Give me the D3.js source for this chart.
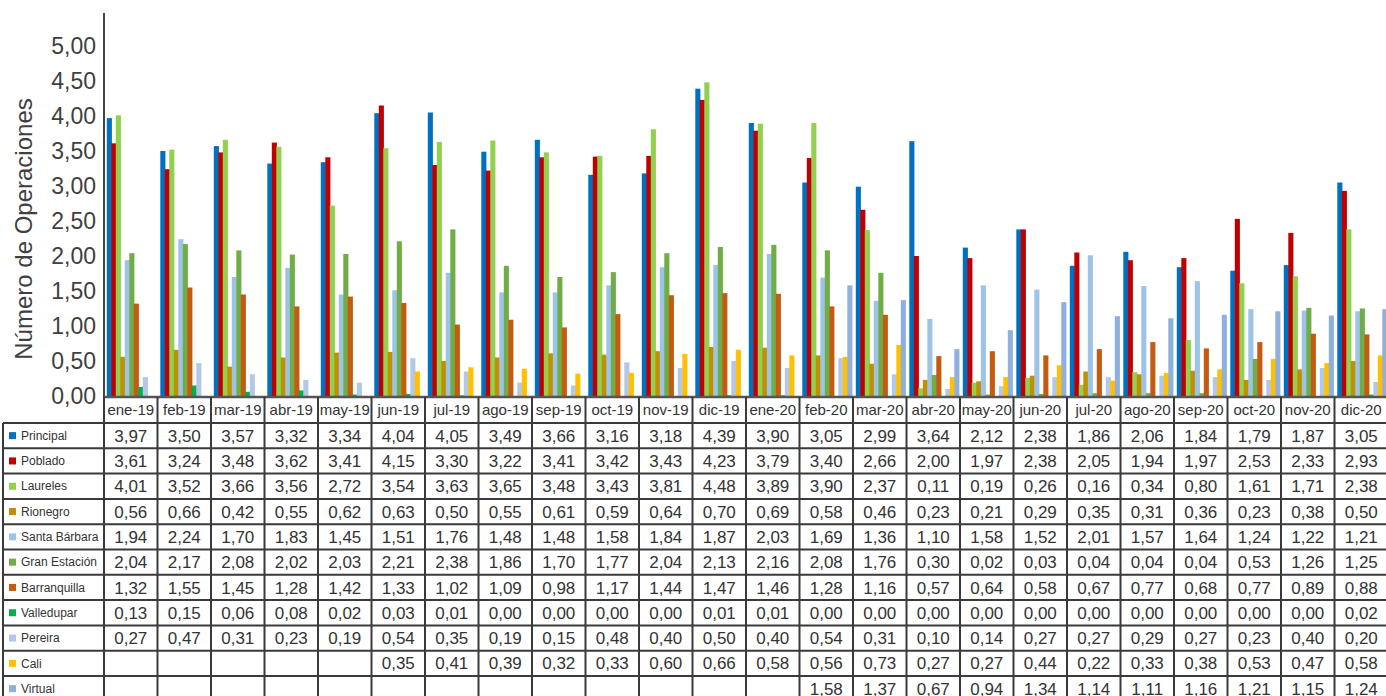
<!DOCTYPE html>
<html>
<head>
<meta charset="utf-8">
<script src="https://cdn.jsdelivr.net/npm/d3@7"></script>
<style>
  html, body { margin: 0; padding: 0; background: #fff; }
  svg { display: block; font-family: "Liberation Sans", Arial, Helvetica, sans-serif; }
</style>
</head>
<body>
<svg id="chart" width="1386" height="696"></svg>
<script>
// ---------- DATA ----------
const months = ["ene-19","feb-19","mar-19","abr-19","may-19","jun-19","jul-19","ago-19","sep-19","oct-19","nov-19","dic-19",
                "ene-20","feb-20","mar-20","abr-20","may-20","jun-20","jul-20","ago-20","sep-20","oct-20","nov-20","dic-20"];
const seriesNames = ["Principal","Poblado","Laureles","Rionegro","Santa Bárbara","Gran Estación","Barranquilla","Valledupar","Pereira","Cali","Virtual"];
const principal    = [3.97,3.50,3.57,3.32,3.34,4.04,4.05,3.49,3.66,3.16,3.18,4.39,3.90,3.05,2.99,3.64,2.12,2.38,1.86,2.06,1.84,1.79,1.87,3.05];
const poblado      = [3.61,3.24,3.48,3.62,3.41,4.15,3.30,3.22,3.41,3.42,3.43,4.23,3.79,3.40,2.66,2.00,1.97,2.38,2.05,1.94,1.97,2.53,2.33,2.93];
const laureles     = [4.01,3.52,3.66,3.56,2.72,3.54,3.63,3.65,3.48,3.43,3.81,4.48,3.89,3.90,2.37,0.11,0.19,0.26,0.16,0.34,0.80,1.61,1.71,2.38];
const rionegro     = [0.56,0.66,0.42,0.55,0.62,0.63,0.50,0.55,0.61,0.59,0.64,0.70,0.69,0.58,0.46,0.23,0.21,0.29,0.35,0.31,0.36,0.23,0.38,0.50];
const santaBarbara = [1.94,2.24,1.70,1.83,1.45,1.51,1.76,1.48,1.48,1.58,1.84,1.87,2.03,1.69,1.36,1.10,1.58,1.52,2.01,1.57,1.64,1.24,1.22,1.21];
const granEstacion = [2.04,2.17,2.08,2.02,2.03,2.21,2.38,1.86,1.70,1.77,2.04,2.13,2.16,2.08,1.76,0.30,0.02,0.03,0.04,0.04,0.04,0.53,1.26,1.25];
const barranquilla = [1.32,1.55,1.45,1.28,1.42,1.33,1.02,1.09,0.98,1.17,1.44,1.47,1.46,1.28,1.16,0.57,0.64,0.58,0.67,0.77,0.68,0.77,0.89,0.88];
const valledupar   = [0.13,0.15,0.06,0.08,0.02,0.03,0.01,0.00,0.00,0.00,0.00,0.01,0.01,0.00,0.00,0.00,0.00,0.00,0.00,0.00,0.00,0.00,0.00,0.02];
const pereira      = [0.27,0.47,0.31,0.23,0.19,0.54,0.35,0.19,0.15,0.48,0.40,0.50,0.40,0.54,0.31,0.10,0.14,0.27,0.27,0.29,0.27,0.23,0.40,0.20];
const cali         = [null,null,null,null,null,0.35,0.41,0.39,0.32,0.33,0.60,0.66,0.58,0.56,0.73,0.27,0.27,0.44,0.22,0.33,0.38,0.53,0.47,0.58];
const virtual      = [null,null,null,null,null,null,null,null,null,null,null,null,null,1.58,1.37,0.67,0.94,1.34,1.14,1.11,1.16,1.21,1.15,1.24];
const yTicks = [0,0.5,1,1.5,2,2.5,3,3.5,4,4.5,5];
const yTitle = "Número de Operaciones";

const seriesValues = [principal,poblado,laureles,rionegro,santaBarbara,granEstacion,barranquilla,valledupar,pereira,cali,virtual];
const colors = ["#0070C0","#C00000","#92D050","#BF9000","#9DC3E6","#70AD47","#C55A11","#00B050","#B4C7E7","#FFC000","#8FB0DC"];

// ---------- LAYOUT ----------
const svg = d3.select("#chart");
const plotLeft = 104, colW = 53.5;
const plotRight = plotLeft + colW * months.length;
const yBase = 396, yTop = 13;
const headerTop = 397, headerBottom = 423, rowH = 25.3;
const tableLeft = 3;
const lineColor = "#3a3a3a";
const textColor = "#333333";

const locale = d3.formatLocale({decimal: ",", thousands: ".", grouping: [3], currency: ["", ""]});
const fmt = locale.format(".2f");

const x0 = d3.scaleBand().domain(months).range([plotLeft, plotRight]).padding(0);
const x1 = d3.scaleBand().domain(seriesNames).range([2.8, 2.8 + 4.5 * seriesNames.length]).padding(0);
const y = d3.scaleLinear().domain([0, (yBase - yTop) / 70]).range([yBase, yTop]);

// ---------- BARS ----------
const gBars = svg.append("g");
seriesNames.forEach((name, si) => {
  const vals = seriesValues[si];
  gBars.selectAll(null)
    .data(months.map((m, i) => ({m, v: vals[i]})).filter(d => d.v !== null))
    .enter().append("rect")
    .attr("x", d => x0(d.m) + x1(name))
    .attr("width", x1.bandwidth() + 0.6)
    .attr("y", d => y(d.v))
    .attr("height", d => y(0) - y(d.v))
    .attr("fill", colors[si]);
});

// ---------- Y AXIS ----------
const yAxis = d3.axisLeft(y).tickValues(yTicks).tickSize(0).tickPadding(8).tickFormat(fmt);
const gy = svg.append("g").attr("transform", `translate(${plotLeft},0)`).call(yAxis);
gy.select(".domain").remove();
gy.selectAll("text")
  .attr("font-size", 23)
  .attr("font-family", "'Liberation Sans', Arial, sans-serif")
  .attr("fill", "#404040")
  .attr("dy", "0.32em");

svg.append("line")
  .attr("x1", plotLeft).attr("x2", plotLeft)
  .attr("y1", yTop).attr("y2", headerTop)
  .attr("stroke", "#444").attr("stroke-width", 2);

svg.append("text")
  .attr("transform", `translate(32,${229}) rotate(-90)`)
  .attr("text-anchor", "middle")
  .attr("font-size", 24)
  .attr("fill", "#404040")
  .text(yTitle);

// ---------- TABLE ----------
const gT = svg.append("g");
// axis / header top line
gT.append("line").attr("x1", plotLeft).attr("x2", plotRight + 2)
  .attr("y1", headerTop).attr("y2", headerTop)
  .attr("stroke", "#555").attr("stroke-width", 2.5);

// header labels
gT.selectAll(".mlabel").data(months).enter().append("text")
  .attr("x", d => x0(d) + colW / 2)
  .attr("y", (headerTop + headerBottom) / 2)
  .attr("dy", "0.36em")
  .attr("text-anchor", "middle")
  .attr("font-size", 15)
  .attr("fill", textColor)
  .text(d => d);

// horizontal lines
const nRows = seriesNames.length;
for (let r = 0; r <= nRows; r++) {
  const yy = headerBottom + r * rowH;
  gT.append("line").attr("x1", tableLeft).attr("x2", plotRight + 2)
    .attr("y1", yy).attr("y2", yy)
    .attr("stroke", lineColor).attr("stroke-width", 2);
}
// vertical lines
gT.append("line").attr("x1", tableLeft).attr("x2", tableLeft)
  .attr("y1", headerBottom).attr("y2", headerBottom + nRows * rowH)
  .attr("stroke", lineColor).attr("stroke-width", 2);
months.forEach((m, i) => {
  const xx = x0(m);
  gT.append("line").attr("x1", xx).attr("x2", xx)
    .attr("y1", headerTop).attr("y2", headerBottom + nRows * rowH)
    .attr("stroke", lineColor).attr("stroke-width", 2);
});
gT.append("line").attr("x1", plotRight).attr("x2", plotRight)
  .attr("y1", headerTop).attr("y2", headerBottom + nRows * rowH)
  .attr("stroke", lineColor).attr("stroke-width", 2);

// row labels + legend keys + values
seriesNames.forEach((name, si) => {
  const cy = headerBottom + si * rowH + rowH / 2;
  gT.append("rect").attr("x", 9).attr("y", cy - 3.5).attr("width", 7).attr("height", 7).attr("fill", colors[si]);
  gT.append("text").attr("x", 21).attr("y", cy).attr("dy", "0.35em")
    .attr("font-size", 12).attr("fill", textColor).text(name);
  const vals = seriesValues[si];
  gT.selectAll(null).data(months.map((m, i) => ({m, v: vals[i]})).filter(d => d.v !== null))
    .enter().append("text")
    .attr("x", d => x0(d.m) + colW / 2)
    .attr("y", cy)
    .attr("dy", "0.36em")
    .attr("text-anchor", "middle")
    .attr("font-size", 17)
    .attr("fill", textColor)
    .text(d => fmt(d.v));
});
</script>
</body>
</html>
